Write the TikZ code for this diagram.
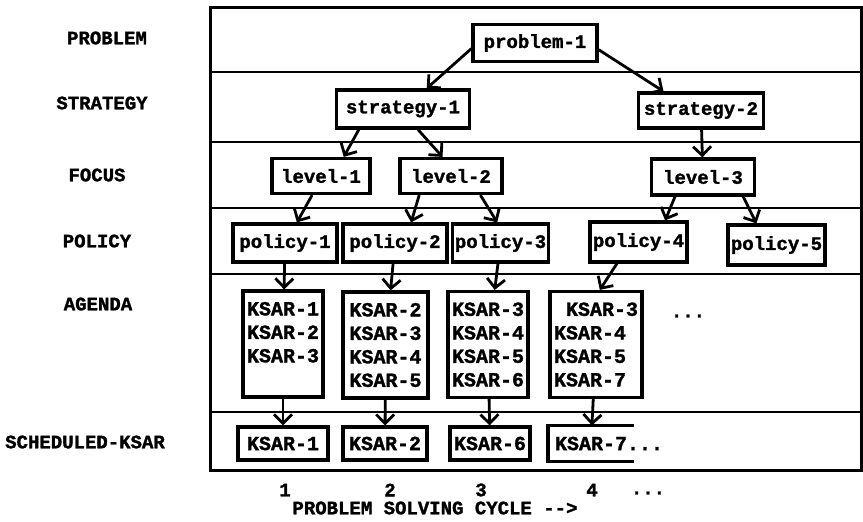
\documentclass[tikz,border=0pt]{standalone}
\usepackage{fontspec}
\setmonofont{Liberation Mono}[BoldFeatures={FakeBold=1.5}]
\usetikzlibrary{arrows.meta}
\tikzset{
  frame/.style={line width=1.5pt},
  rowline/.style={line width=1.3pt},
  box/.style={draw,line width=1.6pt,inner sep=1pt,
    font=\ttfamily\bfseries\fontsize{9.5}{11}\selectfont,minimum height=18.5pt},
  agbox/.style={box,align=left,inner sep=2pt,
    font=\ttfamily\bfseries\fontsize{10}{11.75}\selectfont,minimum height=53pt},
  skbox/.style={box,font=\ttfamily\bfseries\fontsize{10}{12}\selectfont,minimum height=16.5pt},
  rowlabel/.style={font=\ttfamily\bfseries\fontsize{9.5}{11}\selectfont},
  flow/.style={-{Straight Barb[length=4.5pt,width=9pt]},line width=1.4pt},
}
\begin{document}
\begin{tikzpicture}[x=.5pt,y=-.5pt]
\useasboundingbox (0,0) rectangle (863,521);
% frame and rows
\draw[frame] (210,7) rectangle (861,470);
\foreach \y in {72,142,208,274,412}
  \draw[rowline] (210,\y) -- (861,\y);
% row labels
\node[rowlabel] (lprob) at (107,38) {PROBLEM};
\node[rowlabel] (lstrat) at (102,103) {STRATEGY};
\node[rowlabel] (lfocus) at (97,175) {FOCUS};
\node[rowlabel] (lpol) at (97,241) {POLICY};
\node[rowlabel] (lag) at (98,304) {AGENDA};
\node[rowlabel] (lsk) at (85,442) {SCHEDULED-KSAR};
% tree
\node[box,minimum width=62pt] (prob) at (535,43) {problem-1};
\node[box,minimum width=66.5pt,minimum height=19pt] (strat1) at (403,109) {strategy-1};
\node[box,minimum width=62.5pt,minimum height=17.5pt] (strat2) at (701,110.5) {strategy-2};
\node[box,minimum width=49pt,minimum height=17.5pt] (lev1) at (321,176) {level-1};
\node[box,minimum width=51pt,minimum height=17.5pt] (lev2) at (451,176) {level-2};
\node[box,minimum width=51.5pt,minimum height=18pt] (lev3) at (703,177) {level-3};
\node[box,minimum width=52pt,minimum height=19pt] (pol1) at (285,243) {policy-1};
\node[box,minimum width=52pt,minimum height=19pt] (pol2) at (395,243) {policy-2};
\node[box,minimum width=47.5pt,minimum height=19pt] (pol3) at (500.5,243) {policy-3};
\node[box,minimum width=48.5pt,minimum height=20pt] (pol4) at (638.5,242) {policy-4};
\node[box,minimum width=48.5pt,minimum height=20pt] (pol5) at (776.5,245) {policy-5};
\draw[flow] (prob.185) -- (strat1.41);
\draw[flow] (prob.-6) -- (strat2.153);
\draw[flow] (strat1.205) -- (lev1.40);
\draw[flow] (strat1.-54) -- (lev2.114);
\draw[flow] (strat2) -- (lev3);
\draw[flow] (lev1.245) -- (pol1.60);
\draw[flow] (lev2.211) -- (pol2.52);
\draw[flow] (lev2.-33) -- (pol3.99);
\draw[flow] (lev3.215) -- (pol4.39);
\draw[flow] (lev3.-26) -- (pol5.133);
% agenda
\node[agbox,minimum width=40pt] (ag1) at (283,344) {KSAR-1\\KSAR-2\\KSAR-3\\\phantom{KSAR-0}};
\node[agbox,minimum width=42.5pt] (ag2) at (385.5,345) {KSAR-2\\KSAR-3\\KSAR-4\\KSAR-5};
\node[agbox,minimum width=40pt] (ag3) at (488,344.5) {KSAR-3\\KSAR-4\\KSAR-5\\KSAR-6};
\node[agbox,minimum width=44pt] (ag4) at (596,344.5) {\hspace{6pt}KSAR-3\\KSAR-4\\KSAR-5\\KSAR-7};
\node[rowlabel] (agmore) at (688,316) {...};
\draw[flow] (pol1) -- (ag1);
\draw[flow] (pol2) -- (ag2);
\draw[flow] (pol3) -- (ag3);
\draw[flow] (pol4.225) -- (ag4.86);
% scheduled
\node[skbox,minimum width=45pt] (sk1) at (283,443.5) {KSAR-1};
\node[skbox,minimum width=42pt] (sk2) at (385,443.5) {KSAR-2};
\node[skbox,minimum width=40pt] (sk3) at (490,443.5) {KSAR-6};
\node[skbox,draw=none,minimum width=41.5pt] (sk4) at (591,443.5) {KSAR-7\rlap{...}};
\draw[line width=1.6pt] (sk4.north east) -| (sk4.south west) -- (sk4.south east);
\draw[flow] (ag1) -- (sk1);
\draw[flow] (ag2) -- (sk2);
\draw[flow] (ag3) -- (sk3);
\draw[flow] (ag4) -- (sk4);
% cycle axis
\node[rowlabel] (c1) at (285,490) {1};
\node[rowlabel] (c2) at (390,490) {2};
\node[rowlabel] (c3) at (481,490) {3};
\node[rowlabel] (c4) at (592,490) {4};
\node[rowlabel] (cmore) at (648,493) {...};
\node[rowlabel] (cycle) at (435,508) {PROBLEM SOLVING CYCLE -->};
\end{tikzpicture}
\end{document}
